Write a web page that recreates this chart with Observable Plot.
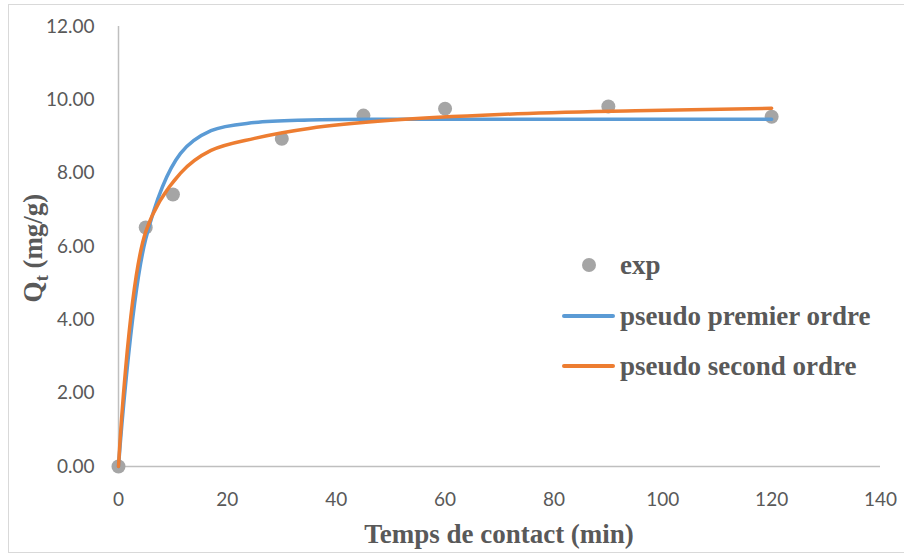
<!DOCTYPE html>
<html>
<head>
<meta charset="utf-8">
<script src="https://cdn.jsdelivr.net/npm/d3@7"></script>
<script src="https://cdn.jsdelivr.net/npm/@observablehq/plot@0.6"></script>
<style>
  html, body { margin: 0; padding: 0; background: #fff; }
  #chart { position: relative; width: 904px; height: 554px; overflow: hidden; }
  #frame { position: absolute; left: 8px; top: 4px; width: 920px; height: 549px;
           border: 1px solid #d9d9d9; box-sizing: border-box; pointer-events: none; }
  #legend { position: absolute; left: 562px; top: 0; font-family: "Liberation Serif", serif;
            font-weight: bold; font-size: 27px; color: #595959; }
  .item { position: absolute; left: 0; height: 30px; display: flex; align-items: center; white-space: nowrap; }
  .sw { width: 53px; height: 30px; display: flex; align-items: center; justify-content: center; margin-right: 5px; }
  .dot { width: 14px; height: 14px; border-radius: 50%; background: #a5a5a5; }
  .ln { width: 53px; height: 3.5px; border-radius: 2px; }
</style>
</head>
<body>
<div id="chart"><div id="frame"></div></div>
<script>
// Experimental adsorption kinetics: contact time (min) vs Qt (mg/g)
const expTime = [0, 5, 10, 30, 45, 60, 90, 120];
const expQt   = [0, 6.52, 7.42, 8.94, 9.57, 9.76, 9.82, 9.54];

// Model curves, sampled along contact time
const modelTime  = [0, 5, 11.4, 17, 25, 35, 50, 70, 95, 120];
const premierQt  = [0, 6.2, 8.54, 9.16, 9.38, 9.45, 9.47, 9.47, 9.47, 9.47];
const secondQt   = [0, 6.4, 8.0, 8.62, 8.95, 9.22, 9.44, 9.6, 9.7, 9.77];

const xTicks = [0, 20, 40, 60, 80, 100, 120, 140];
const yTicks = [0, 2, 4, 6, 8, 10, 12];

const seriesNames = ["exp", "pseudo premier ordre", "pseudo second ordre"];
const seriesColors = ["#a5a5a5", "#5b9bd5", "#ed7d31"];

const expData = expTime.map((t, i) => ({t, q: expQt[i]}));
const premierData = modelTime.map((t, i) => ({t, q: premierQt[i]}));
const secondData = modelTime.map((t, i) => ({t, q: secondQt[i]}));

const tickFont = "Lato, 'Open Sans', sans-serif";
const axisGray = "#bfbfbf";

const plot = Plot.plot({
  width: 904,
  height: 554,
  marginLeft: 118,
  marginRight: 24,
  marginTop: 26,
  marginBottom: 88,
  style: { background: "transparent", overflow: "visible" },
  x: { domain: [0, 140] },
  y: { domain: [0, 12] },
  marks: [
    Plot.axisX({ticks: xTicks, tickSize: 0, tickPadding: 26, label: null,
      fontSize: 19, fill: "#595959", fontFamily: tickFont}),
    Plot.axisY({ticks: yTicks, tickSize: 0, tickPadding: 24, label: null,
      tickFormat: d => d.toFixed(2), fontSize: 19, fill: "#595959", fontFamily: tickFont}),
    Plot.ruleY([0], {stroke: axisGray, strokeWidth: 1.5}),
    Plot.ruleX([0], {stroke: axisGray, strokeWidth: 1.5}),
    Plot.dot(expData, {x: "t", y: "q", r: 7, fill: seriesColors[0], stroke: "none"}),
    Plot.line(premierData, {x: "t", y: "q", stroke: seriesColors[1], strokeWidth: 3.5,
      curve: "catmull-rom"}),
    Plot.line(secondData, {x: "t", y: "q", stroke: seriesColors[2], strokeWidth: 3.5,
      curve: "catmull-rom"})
  ]
});

const chart = document.getElementById("chart");
chart.appendChild(plot);
plot.style.position = "absolute";
plot.style.left = "0";
plot.style.top = "0";

// Axis titles
const svg = d3.select(plot);
svg.append("text")
  .attr("x", 499).attr("y", 543)
  .attr("text-anchor", "middle")
  .attr("font-family", "'Liberation Serif', serif")
  .attr("font-weight", "bold").attr("font-size", 27).attr("fill", "#595959")
  .text("Temps de contact (min)");

const yTitle = svg.append("text")
  .attr("transform", "translate(42,248) rotate(-90)")
  .attr("text-anchor", "middle")
  .attr("font-family", "'Liberation Serif', serif")
  .attr("font-weight", "bold").attr("font-size", 27).attr("fill", "#595959");
yTitle.append("tspan").text("Q");
yTitle.append("tspan").attr("font-size", 18).attr("dy", 6).text("t");
yTitle.append("tspan").attr("dy", -6).text(" (mg/g)");

// Legend
const legend = d3.select(chart).append("div").attr("id", "legend");
const tops = [250, 301, 351];
seriesNames.forEach((name, i) => {
  const item = legend.append("div").attr("class", "item").style("top", tops[i] + "px");
  const sw = item.append("div").attr("class", "sw");
  if (i === 0) sw.append("div").attr("class", "dot");
  else sw.append("div").attr("class", "ln").style("background", seriesColors[i]);
  item.append("span").text(name);
});
</script>
</body>
</html>
